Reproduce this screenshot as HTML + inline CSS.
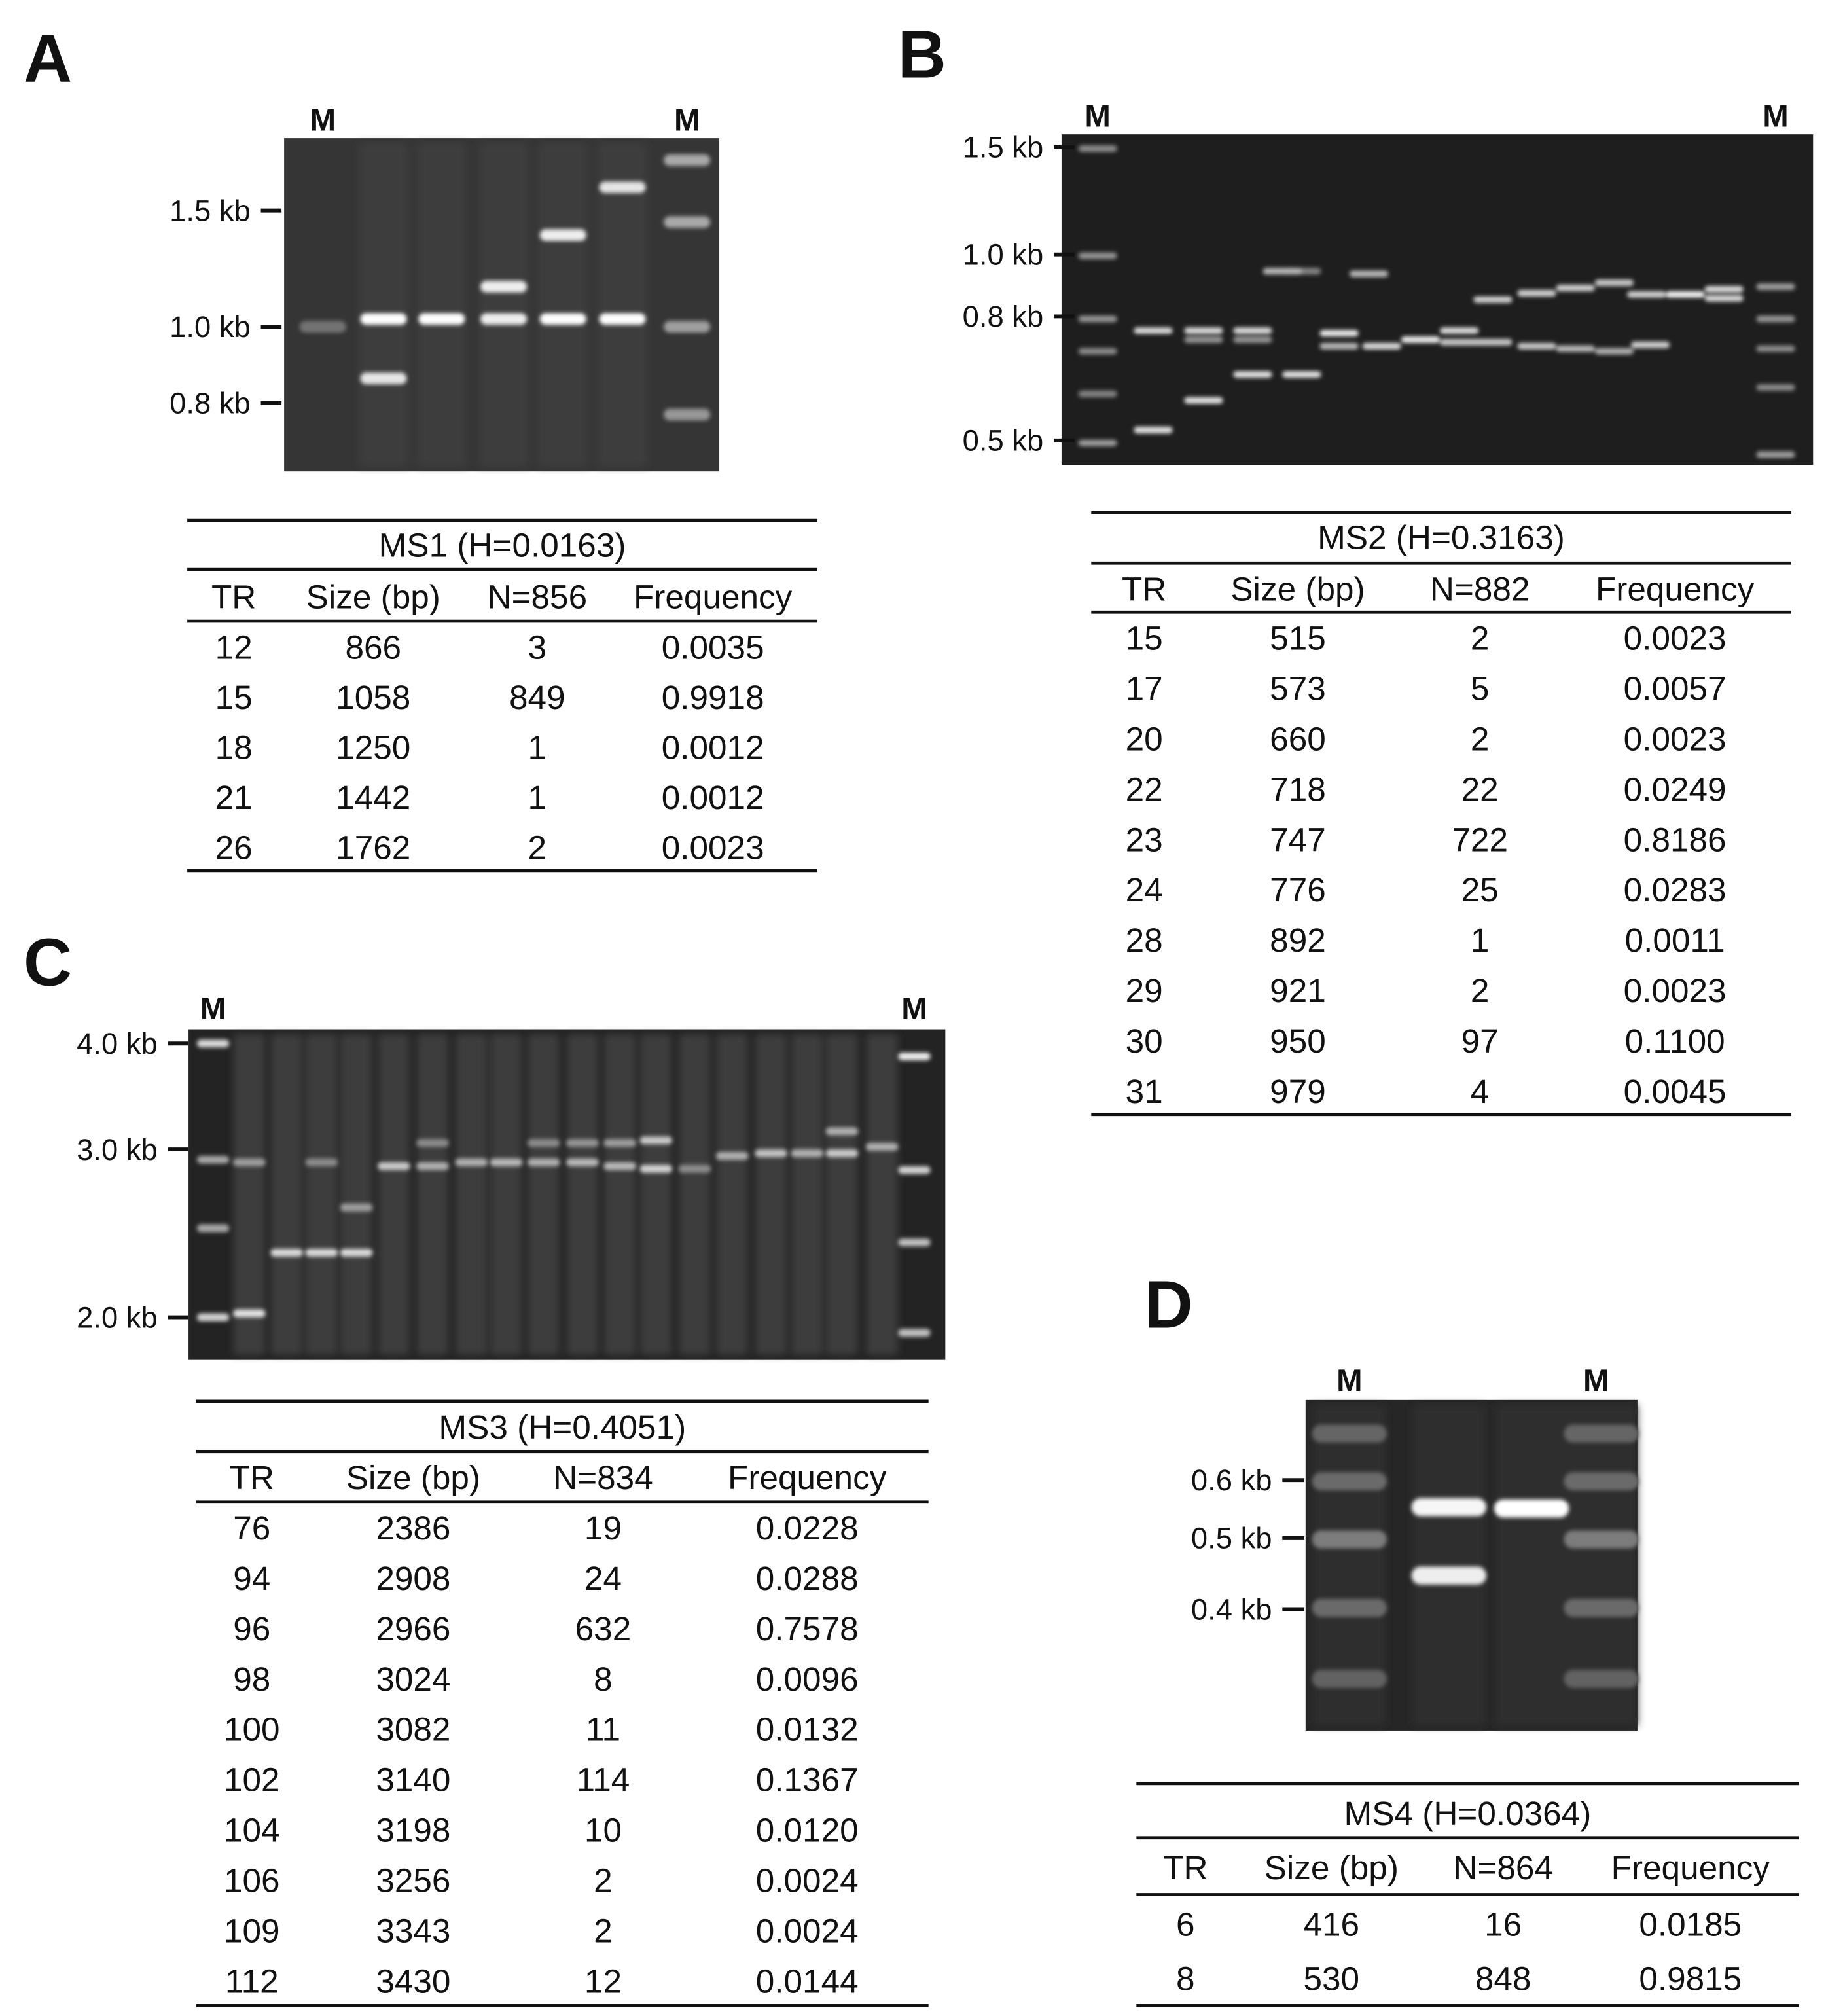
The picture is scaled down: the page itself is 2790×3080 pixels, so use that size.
<!DOCTYPE html>
<html><head><meta charset="utf-8">
<style>
html,body{margin:0;padding:0;background:#fff;}
svg{display:block;}
text{font-family:"Liberation Sans",Arial,sans-serif;fill:#111;}
</style></head>
<body>
<svg id="fig" width="2790" height="3080" viewBox="0 0 1414 1561" xmlns="http://www.w3.org/2000/svg">
<defs>
<filter id="blur" x="-20%" y="-200%" width="140%" height="500%"><feGaussianBlur stdDeviation="1.6"/></filter>
<filter id="blur2" x="-50%" y="-10%" width="200%" height="120%"><feGaussianBlur stdDeviation="3"/></filter>
</defs>
<g id="root"></g>
</svg>
<script>
// ---- Gel data: [laneX, bandY, brightness] ----
const gelA_bands = [[250,253,0.2],[297,247,1],[297,293,0.85],[342,247,1],[390,222,0.9],[390,247,0.9],[436,182,0.9],[436,247,1],[482,145,0.85],[482,247,1],[532,124,0.5],[532,172,0.5],[532,253,0.45],[532,321,0.4]];
const gelB_bands = [[850,115,0.35],[850,198,0.4],[850,247,0.4],[850,272,0.35],[850,305,0.3],[850,343,0.45],
[893,256,0.8],[893,333,0.85],[932,256,0.8],[932,263,0.4],[932,310,0.85],[970,256,0.8],[970,263,0.4],[970,290,0.85],[1008,290,0.85],[1008,210,0.3],
[1037,258,0.9],[1037,268,0.6],[1070,268,0.8],[1060,212,0.6],[993,210,0.6],[1100,263,0.9],[1130,256,0.8],[1130,265,0.7],[1156,232,0.75],[1156,265,0.7],
[1190,227,0.75],[1190,268,0.7],[1220,223,0.75],[1220,270,0.6],[1250,219,0.7],[1250,272,0.55],[1275,228,0.75],[1278,267,0.75],[1305,228,0.95],[1335,224,0.8],[1335,231,0.8],
[1375,222,0.45],[1375,247,0.4],[1375,270,0.35],[1375,300,0.35],[1375,352,0.45]];
const gelC_lanes = [193,222,249,276,305,335,365,392,421,451,480,508,538,567,597,625,652,683];
const gelC_bands = [[165,808,0.8],[165,898,0.5],[165,951,0.5],[165,1020,0.75],[193,900,0.45],[193,1017,0.85],[222,970,0.8],[249,900,0.35],[249,970,0.8],[276,970,0.8],[276,935,0.45],
[305,903,0.7],[335,903,0.55],[335,885,0.35],[365,900,0.55],[392,900,0.6],[421,900,0.55],[421,885,0.35],[451,900,0.6],[451,885,0.4],[480,903,0.6],[480,885,0.45],[508,905,0.75],[508,883,0.7],
[538,905,0.35],[567,895,0.55],[597,893,0.65],[625,893,0.55],[652,893,0.7],[652,876,0.55],[683,888,0.55],[708,818,0.9],[708,906,0.75],[708,962,0.65],[708,1032,0.65]];
const gelD_bands = [[1045,1110,0.12],[1045,1147,0.15],[1045,1192,0.25],[1045,1245,0.15],[1045,1300,0.1],[1122,1167,0.95],[1122,1220,0.9],[1186,1168,1],[1240,1110,0.12],[1240,1147,0.15],[1240,1192,0.25],[1240,1245,0.15],[1240,1300,0.1]];

// ---- Table data ----
const tabA_title="MS1 (H=0.0163)";
const tabA_head=["TR","Size (bp)","N=856","Frequency"];
const tabA_rows=[["12","866","3","0.0035"],["15","1058","849","0.9918"],["18","1250","1","0.0012"],["21","1442","1","0.0012"],["26","1762","2","0.0023"]];
const tabB_title="MS2 (H=0.3163)";
const tabB_head=["TR","Size (bp)","N=882","Frequency"];
const tabB_rows=[["15","515","2","0.0023"],["17","573","5","0.0057"],["20","660","2","0.0023"],["22","718","22","0.0249"],["23","747","722","0.8186"],["24","776","25","0.0283"],["28","892","1","0.0011"],["29","921","2","0.0023"],["30","950","97","0.1100"],["31","979","4","0.0045"]];
const tabC_title="MS3 (H=0.4051)";
const tabC_head=["TR","Size (bp)","N=834","Frequency"];
const tabC_rows=[["76","2386","19","0.0228"],["94","2908","24","0.0288"],["96","2966","632","0.7578"],["98","3024","8","0.0096"],["100","3082","11","0.0132"],["102","3140","114","0.1367"],["104","3198","10","0.0120"],["106","3256","2","0.0024"],["109","3343","2","0.0024"],["112","3430","12","0.0144"]];
const tabD_title="MS4 (H=0.0364)";
const tabD_head=["TR","Size (bp)","N=864","Frequency"];
const tabD_rows=[["6","416","16","0.0185"],["8","530","848","0.9815"]];

const NS="http://www.w3.org/2000/svg";
const root=document.getElementById('root');
function el(tag,attrs,parent){const e=document.createElementNS(NS,tag);for(const k in attrs)e.setAttribute(k,attrs[k]);(parent||root).appendChild(e);return e;}
function txt(x,y,s,size,anchor,weight,parent){const t=el('text',{x:x,y:y,'font-size':size,'text-anchor':anchor||'middle','font-weight':weight||'normal'},parent);t.textContent=s;return t;}

function gel(name,x,y,w,h,bg,bands,bw,bh,labels,tickX0,tickX1,mLabels,mY,lanes,laneW,laneCol){
  const g=el('g',{});
  
  
  const r=el('rect',{x:x,y:y,width:w,height:h,fill:bg},g);
  
  
  if(lanes){
    const lg=el('g',{filter:'url(#blur2)'},g);
    lanes.forEach(lx=>{
      const lr=el('rect',{x:lx-laneW/2,y:y+4,width:laneW,height:h-8,fill:laneCol},lg);
      
      
    });
  }
  const bg2=el('g',{filter:'url(#blur)'},g);
  bands.forEach(b=>{
    const c=Math.round(80+175*b[2]);
    const br=el('rect',{x:b[0]-bw/2,y:b[1]-bh/2,width:bw,height:bh,rx:bh/2,fill:`rgb(${c},${c},${c})`},bg2);
    
    
  });
  labels.forEach(l=>{
    const t=txt(tickX0-8,l[1]+8,l[0],23,'end','normal',g);
    
    
    const ln=el('line',{x1:tickX0,x2:tickX1,y1:l[1],y2:l[1],stroke:'#111','stroke-width':3},g);
    
    
  });
  mLabels.forEach(mx=>{
    const t=txt(mx,mY,'M',24,'middle','bold',g);
    
    
  });
}

function table(name,x0,x1,lines,titleY,title,cols,head,headY,rows,rowY0,rowStep){
  const g=el('g',{});
  
  
  lines.forEach(ly=>{
    const l=el('line',{x1:x0,x2:x1,y1:ly,y2:ly,stroke:'#111','stroke-width':2.4},g);
    
    
  });
  const t=txt((x0+x1)/2,titleY+9,title,26,'middle','normal',g);
  
  
  head.forEach((h,i)=>{
    const ht=txt(cols[i],headY+9,h,26,'middle','normal',g);
    
    
  });
  rows.forEach((r,j)=>{
    r.forEach((v,i)=>{
      const c=txt(cols[i],rowY0+j*rowStep+9,v,26,'middle','normal',g);
      
      
    });
  });
}

[["A",37,45],["B",714,42],["C",37,745],["D",905,1010]].forEach(p=>{
  const t=txt(p[1],p[2]+18,p[0],52,'middle','bold');
  
  
});

gel('gel-a',220,107,337,258,'#353535',gelA_bands,36,9,[["1.5 kb",163],["1.0 kb",253],["0.8 kb",312]],202,218,[250,532],101,[297,342,390,436,482],38,'#3e3e3e');
table('table-ms1',145,633,[403,441,481,674],422,tabA_title,[181,289,416,552],tabA_head,462,tabA_rows,501,38.8);

gel('gel-b',822,104,582,256,'#1e1e1e',gelB_bands,30,5,[["1.5 kb",114],["1.0 kb",197],["0.8 kb",245],["0.5 kb",341]],816,832,[850,1375],98);
table('table-ms2',845,1387,[397,436,474,863],416,tabB_title,[886,1005,1146,1297],tabB_head,456,tabB_rows,494,39);

gel('gel-c',146,797,586,256,'#232323',gelC_bands,25,6,[["4.0 kb",808],["3.0 kb",890],["2.0 kb",1020]],130,146,[165,708],789,gelC_lanes,24,'#3c3c3c');
table('table-ms3',152,719,[1085,1124,1163,1553],1105,tabC_title,[195,320,467,625],tabC_head,1144,tabC_rows,1183,39);

gel('gel-d',1011,1084,257,256,'#262626',gelD_bands,58,14,[["0.6 kb",1146],["0.5 kb",1191],["0.4 kb",1246]],993,1010,[1045,1236],1077,[1045,1122,1186,1240],56,'#2f2f2f');
table('table-ms4',880,1393,[1381,1423,1467,1553],1404,tabD_title,[918,1031,1164,1309],tabD_head,1446,tabD_rows,1490,42);
</script>
</body></html>
